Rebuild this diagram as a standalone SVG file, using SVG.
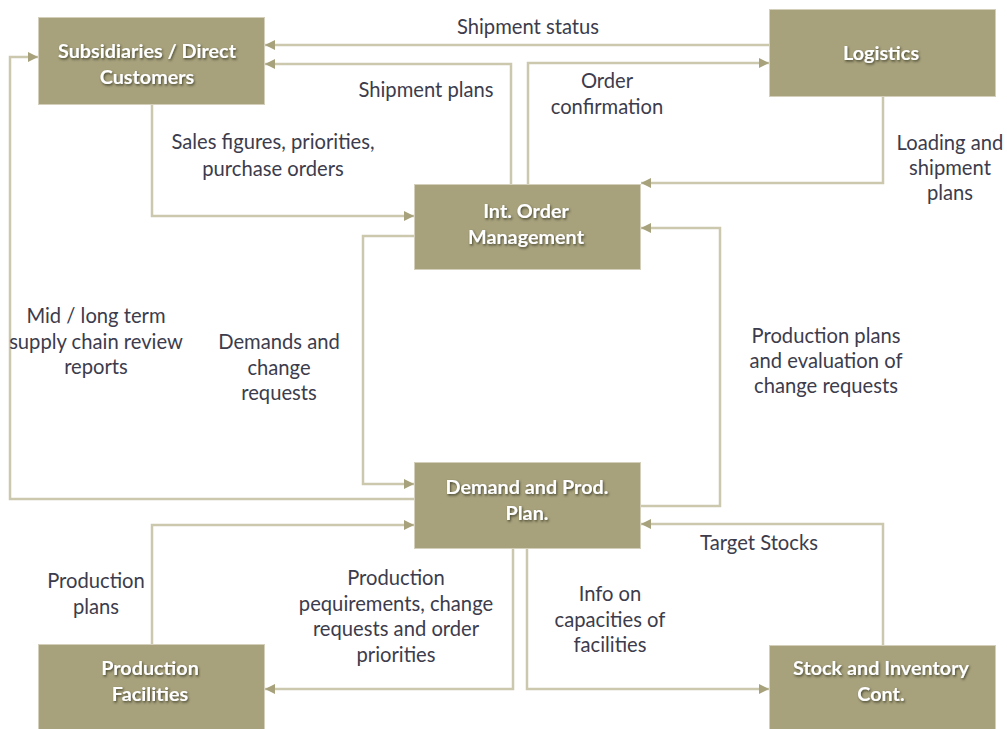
<svg xmlns="http://www.w3.org/2000/svg" width="1007" height="729" viewBox="0 0 1007 729">
  <style>
    .box { fill: #A7A17C; stroke: #D3CFBA; stroke-width: 1; }
    .title { font-family: "Lato", "Liberation Sans", sans-serif; font-weight: bold; font-size: 19.8px; fill: #FFFFFF; text-anchor: middle; filter: url(#shadow); }
    .lbl { font-family: "Lato", "Liberation Sans", sans-serif; font-size: 20.2px; fill: #3C3C4C; text-anchor: middle; }
    .wire { fill: none; stroke: #CCC8AE; stroke-width: 2.5; marker-end: url(#arrow); }
  </style>
  <defs>
    <marker id="arrow" viewBox="0 0 10 10" refX="10" refY="5" markerUnits="userSpaceOnUse" markerWidth="11" markerHeight="10" orient="auto">
      <path d="M0,0 L10,5 L0,10 Z" fill="#A7A17C"/>
    </marker>
    <filter id="shadow" x="-10%" y="-30%" width="120%" height="160%">
      <feDropShadow dx="1" dy="1.5" stdDeviation="1" flood-color="#3A3826" flood-opacity="0.85"/>
    </filter>
  </defs>

  <!-- connectors -->
  <g id="connectors">
    <!-- Logistics -> Subsidiaries: shipment status -->
    <path class="wire" d="M769,45 H265"/>
    <!-- Order mgmt -> Subsidiaries: shipment plans -->
    <path class="wire" d="M511,184 V64 H265"/>
    <!-- Order mgmt -> Logistics: order confirmation -->
    <path class="wire" d="M528,184 V63 H769"/>
    <!-- Logistics -> Order mgmt: loading and shipment plans -->
    <path class="wire" d="M883,97 V183 H641"/>
    <!-- Subsidiaries -> Order mgmt: sales figures -->
    <path class="wire" d="M152,105 V216 H414"/>
    <!-- Order mgmt -> Demand plan: demands and change requests -->
    <path class="wire" d="M414,236 H363 V484 H414"/>
    <!-- Demand plan -> Subsidiaries: review reports -->
    <path class="wire" d="M414,499 H10 V57 H38"/>
    <!-- Production facilities -> Demand plan: production plans -->
    <path class="wire" d="M152,644 V525 H414"/>
    <!-- Demand plan -> Production facilities: requirements -->
    <path class="wire" d="M513,549 V689 H265"/>
    <!-- Demand plan -> Stock: capacities info -->
    <path class="wire" d="M527,549 V689 H769"/>
    <!-- Stock -> Demand plan: target stocks -->
    <path class="wire" d="M883,645 V524 H641"/>
    <!-- Demand plan -> Order mgmt: production plans and evaluation -->
    <path class="wire" d="M641,506 H720 V228 H641"/>
  </g>

  <!-- connector labels -->
  <g id="labels">
    <text class="lbl" x="528" y="33.5">Shipment status</text>
    <text class="lbl" x="426" y="96.5">Shipment plans</text>
    <text class="lbl" x="607" y="87.5">Order</text>
    <text class="lbl" x="607" y="113.5">confirmation</text>
    <text class="lbl" x="273" y="148.5">Sales figures, priorities,</text>
    <text class="lbl" x="273" y="175.5">purchase orders</text>
    <text class="lbl" x="950" y="149.5">Loading and</text>
    <text class="lbl" x="950" y="174.5">shipment</text>
    <text class="lbl" x="950" y="199.5">plans</text>
    <text class="lbl" x="96" y="322.5">Mid / long term</text>
    <text class="lbl" x="96" y="348.5">supply chain review</text>
    <text class="lbl" x="96" y="373.5">reports</text>
    <text class="lbl" x="279" y="348.5">Demands and</text>
    <text class="lbl" x="279" y="374.5">change</text>
    <text class="lbl" x="279" y="399.5">requests</text>
    <text class="lbl" x="826" y="342.5">Production plans</text>
    <text class="lbl" x="826" y="367.5">and evaluation of</text>
    <text class="lbl" x="826" y="392.5">change requests</text>
    <text class="lbl" x="759" y="549.5">Target Stocks</text>
    <text class="lbl" x="96" y="587.5">Production</text>
    <text class="lbl" x="96" y="613.5">plans</text>
    <text class="lbl" x="396" y="584.5">Production</text>
    <text class="lbl" x="396" y="610.5">pequirements, change</text>
    <text class="lbl" x="396" y="635.5">requests and order</text>
    <text class="lbl" x="396" y="661.5">priorities</text>
    <text class="lbl" x="610" y="600.5">Info on</text>
    <text class="lbl" x="610" y="626.5">capacities of</text>
    <text class="lbl" x="610" y="651.5">facilities</text>
  </g>

  <!-- nodes -->
  <g id="subsidiaries">
    <rect class="box" x="38.5" y="17.5" width="226" height="87"/>
    <text class="title" x="147" y="58">Subsidiaries / Direct</text>
    <text class="title" x="147" y="84">Customers</text>
  </g>
  <g id="logistics">
    <rect class="box" x="769.5" y="9.5" width="226" height="87"/>
    <text class="title" x="881" y="60">Logistics</text>
  </g>
  <g id="order-management">
    <rect class="box" x="414.5" y="184.5" width="226" height="85"/>
    <text class="title" x="526" y="218">Int. Order</text>
    <text class="title" x="526" y="244">Management</text>
  </g>
  <g id="demand-plan">
    <rect class="box" x="414.5" y="462.5" width="226" height="86"/>
    <text class="title" x="527" y="494">Demand and Prod.</text>
    <text class="title" x="527" y="520">Plan.</text>
  </g>
  <g id="production-facilities">
    <rect class="box" x="38.5" y="644.5" width="226" height="90"/>
    <text class="title" x="150" y="675">Production</text>
    <text class="title" x="150" y="701">Facilities</text>
  </g>
  <g id="stock-inventory">
    <rect class="box" x="769.5" y="645.5" width="226" height="90"/>
    <text class="title" x="881" y="675">Stock and Inventory</text>
    <text class="title" x="881" y="701">Cont.</text>
  </g>
</svg>
